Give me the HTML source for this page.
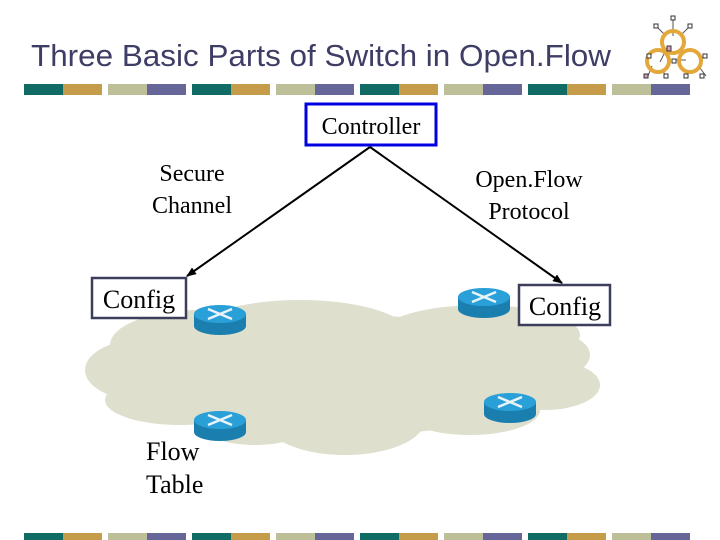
<!DOCTYPE html>
<html><head><style>
html,body{margin:0;padding:0;background:#fff;}
svg{display:block;}
</style></head><body>
<svg width="720" height="540" viewBox="0 0 720 540" xmlns="http://www.w3.org/2000/svg">
<defs>
<g id="bars">
  <rect x="24" y="0" width="39" height="11" fill="#0f6b63"/><rect x="63" y="0" width="39" height="11" fill="#c49c4a"/>
  <rect x="108" y="0" width="39" height="11" fill="#bcbf98"/><rect x="147" y="0" width="39" height="11" fill="#666699"/>
  <rect x="192" y="0" width="39" height="11" fill="#0f6b63"/><rect x="231" y="0" width="39" height="11" fill="#c49c4a"/>
  <rect x="276" y="0" width="39" height="11" fill="#bcbf98"/><rect x="315" y="0" width="39" height="11" fill="#666699"/>
  <rect x="360" y="0" width="39" height="11" fill="#0f6b63"/><rect x="399" y="0" width="39" height="11" fill="#c49c4a"/>
  <rect x="444" y="0" width="39" height="11" fill="#bcbf98"/><rect x="483" y="0" width="39" height="11" fill="#666699"/>
  <rect x="528" y="0" width="39" height="11" fill="#0f6b63"/><rect x="567" y="0" width="39" height="11" fill="#c49c4a"/>
  <rect x="612" y="0" width="39" height="11" fill="#bcbf98"/><rect x="651" y="0" width="39" height="11" fill="#666699"/>
</g>
<g id="router">
  <path d="M-26,0 v12 a26,9 0 0 0 52,0 v-12 z" fill="#1a7fae"/>
  <ellipse cx="0" cy="0" rx="26" ry="9" fill="#2aa0d8"/>
  <path d="M-12,-5 L12,5 M12,-5 L-12,5" stroke="#e8f4fa" stroke-width="2.5"/>
</g>
<marker id="ar" markerWidth="10" markerHeight="8" refX="9" refY="4" orient="auto" markerUnits="userSpaceOnUse"><path d="M0,0 L10,4 L0,8 z" fill="#000"/></marker>
</defs>
<text x="31" y="66" font-family="Liberation Sans, sans-serif" font-size="31" fill="#3d3d66" textLength="580" lengthAdjust="spacingAndGlyphs">Three Basic Parts of Switch in Open.Flow</text>
<!-- logo -->
<g stroke="#555" stroke-width="1" fill="none">
  <line x1="673" y1="20" x2="673" y2="36"/><line x1="658" y1="28" x2="666" y2="36"/><line x1="688" y1="28" x2="680" y2="36"/>
  <line x1="664" y1="54" x2="660" y2="62"/><line x1="676" y1="60" x2="686" y2="60"/>
  <line x1="652" y1="66" x2="648" y2="76"/><line x1="662" y1="70" x2="666" y2="76"/><line x1="688" y1="70" x2="686" y2="76"/><line x1="700" y1="68" x2="706" y2="76"/>
</g>
<circle cx="673" cy="42" r="11" fill="none" stroke="#e4a83a" stroke-width="4"/>
<circle cx="658" cy="61" r="11" fill="none" stroke="#e4a83a" stroke-width="4"/>
<circle cx="690" cy="61" r="11" fill="none" stroke="#e4a83a" stroke-width="4"/>
<g fill="#fff" stroke="#333" stroke-width="1">
  <rect x="671" y="16" width="4" height="4"/><rect x="654" y="24" width="4" height="4"/><rect x="688" y="24" width="4" height="4"/>
  <rect x="647" y="54" width="4" height="4"/><rect x="703" y="54" width="4" height="4"/><rect x="672" y="59" width="4" height="4"/>
  <rect x="664" y="74" width="4" height="4"/><rect x="684" y="74" width="4" height="4"/><rect x="700" y="74" width="4" height="4"/>
  <rect x="644" y="74" width="4" height="4" fill="#d8a0c8"/><rect x="667" y="46" width="4" height="5" fill="#d8a0c8"/>
</g>
<use href="#bars" y="84"/>
<use href="#bars" y="533"/>
<!-- cloud -->
<g fill="#dedfcc">
  <ellipse cx="340" cy="375" rx="240" ry="60"/>
  <ellipse cx="300" cy="335" rx="110" ry="35"/>
  <ellipse cx="200" cy="345" rx="90" ry="35"/>
  <ellipse cx="480" cy="335" rx="100" ry="30"/>
  <ellipse cx="540" cy="355" rx="50" ry="25"/>
  <ellipse cx="140" cy="370" rx="55" ry="30"/>
  <ellipse cx="545" cy="385" rx="55" ry="25"/>
  <ellipse cx="180" cy="400" rx="75" ry="25"/>
  <ellipse cx="345" cy="420" rx="80" ry="35"/>
  <ellipse cx="470" cy="410" rx="70" ry="25"/>
  <ellipse cx="255" cy="420" rx="60" ry="25"/>
</g>
<!-- arrows -->
<line x1="370" y1="147" x2="187" y2="276" stroke="#000" stroke-width="2" marker-end="url(#ar)"/>
<line x1="370" y1="147" x2="562" y2="283" stroke="#000" stroke-width="2" marker-end="url(#ar)"/>
<!-- controller -->
<rect x="306" y="104" width="130" height="41" fill="#fff" stroke="#0000e0" stroke-width="3"/>
<text x="371" y="134" text-anchor="middle" font-family="Liberation Serif, serif" font-size="24">Controller</text>
<text x="192" y="181" text-anchor="middle" font-family="Liberation Serif, serif" font-size="24">Secure</text>
<text x="192" y="213" text-anchor="middle" font-family="Liberation Serif, serif" font-size="24">Channel</text>
<text x="529" y="187" text-anchor="middle" font-family="Liberation Serif, serif" font-size="24">Open.Flow</text>
<text x="529" y="219" text-anchor="middle" font-family="Liberation Serif, serif" font-size="24">Protocol</text>
<rect x="92" y="278" width="94" height="40" fill="#fff" stroke="#3d3d5c" stroke-width="2.5"/>
<text x="139" y="308" text-anchor="middle" font-family="Liberation Serif, serif" font-size="26">Config</text>
<rect x="519" y="285" width="91" height="40" fill="#fff" stroke="#3d3d5c" stroke-width="2.5"/>
<text x="565" y="315" text-anchor="middle" font-family="Liberation Serif, serif" font-size="26">Config</text>
<use href="#router" x="220" y="314"/>
<use href="#router" x="484" y="297"/>
<use href="#router" x="220" y="420"/>
<use href="#router" x="510" y="402"/>
<text x="146" y="460" font-family="Liberation Serif, serif" font-size="26">Flow</text>
<text x="146" y="493" font-family="Liberation Serif, serif" font-size="26">Table</text>
</svg>
</body></html>
